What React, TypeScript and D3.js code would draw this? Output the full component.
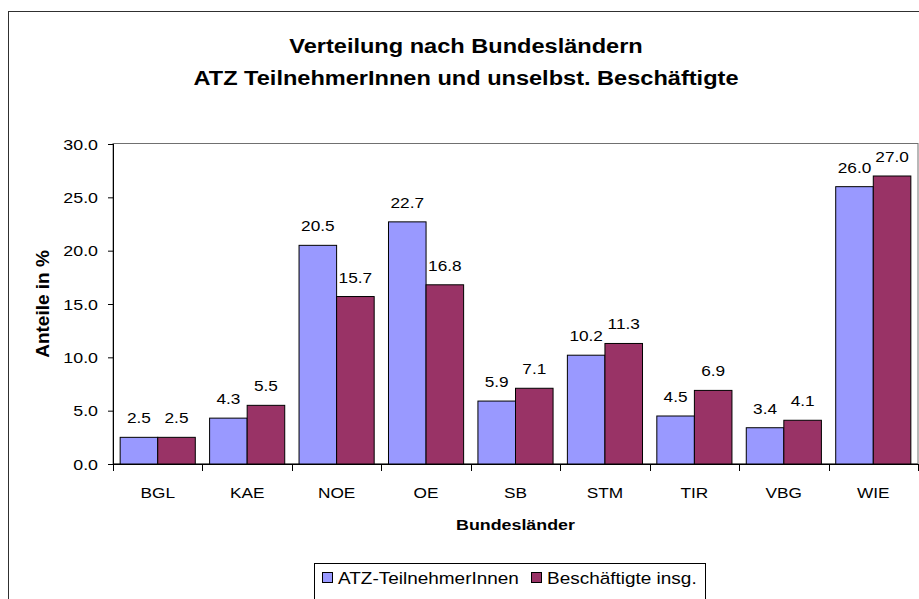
import React from 'react';
import * as d3 from 'd3';

const categories = ['BGL', 'KAE', 'NOE', 'OE', 'SB', 'STM', 'TIR', 'VBG', 'WIE'];
const seriesNames = ['ATZ-TeilnehmerInnen', 'Beschäftigte insg.'];
const atzValues = [2.5, 4.3, 20.5, 22.7, 5.9, 10.2, 4.5, 3.4, 26.0];
const beschValues = [2.5, 5.5, 15.7, 16.8, 7.1, 11.3, 6.9, 4.1, 27.0];
const yTicks = [0, 5, 10, 15, 20, 25, 30];
const colors = ['#9999FF', '#993366'];

const W = 919;
const H = 599;
const FONT = "Arial, 'Liberation Sans', sans-serif";
const SX = 1.15; // text in the original is a bit wider than plain Arial

const plot = { left: 113, right: 918, top: 144, bottom: 464 };

function T({ x, y, size, anchor = 'middle', bold = false, children }) {
  return (
    <text
      transform={`translate(${x},${y}) scale(${SX},1)`}
      textAnchor={anchor}
      fontFamily={FONT}
      fontSize={size}
      fontWeight={bold ? 'bold' : 'normal'}
      fill="#000"
    >
      {children}
    </text>
  );
}

export default function App() {
  const x = d3
    .scaleBand()
    .domain(categories)
    .range([plot.left, plot.right])
    .paddingInner(0.16)
    .paddingOuter(0.08);
  const step = x.step();
  const xs = d3.scaleBand().domain(['0', '1']).range([0, x.bandwidth()]);
  const y = d3.scaleLinear().domain([0, 30]).range([plot.bottom, plot.top]);

  const series = [atzValues, beschValues];
  const fmt = d3.format('.1f');
  const midX = (plot.left + plot.right) / 2;

  return (
    <div style={{ position: 'fixed', left: 0, top: 0 }}>
      <svg width={W} height={H} style={{ display: 'block', background: '#fff' }}>
        {/* chart frame */}
        <rect x={8.5} y={11.5} width={W + 20} height={H + 20} fill="#fff" stroke="#303030" />

        {/* title */}
        <T x={466} y={53} size={20.5} bold>Verteilung nach Bundesländern</T>
        <T x={466} y={85} size={20.5} bold>ATZ TeilnehmerInnen und unselbst. Beschäftigte</T>

        {/* plot area border */}
        <rect
          x={plot.left}
          y={plot.top - 0.5}
          width={plot.right - plot.left}
          height={plot.bottom - plot.top}
          fill="none"
          stroke="#707070"
        />

        {/* bars */}
        {series.map((vals, s) =>
          vals.map((v, i) => {
            const bx = x(categories[i]) + xs(String(s));
            return (
              <rect
                key={`b${s}-${i}`}
                x={bx}
                y={y(v)}
                width={xs.bandwidth()}
                height={y(0) - y(v)}
                fill={colors[s]}
                stroke="#000"
                strokeWidth={1}
              />
            );
          })
        )}

        {/* data labels */}
        {series.map((vals, s) =>
          vals.map((v, i) => (
            <T
              key={`l${s}-${i}`}
              x={x(categories[i]) + xs(String(s)) + xs.bandwidth() / 2}
              y={y(v) - 14}
              size={15}
            >
              {fmt(v)}
            </T>
          ))
        )}

        {/* y axis */}
        <line x1={plot.left + 0.5} x2={plot.left + 0.5} y1={plot.top} y2={plot.bottom} stroke="#000" />
        {yTicks.map((t) => (
          <g key={`yt${t}`}>
            <line x1={plot.left - 5} x2={plot.left} y1={y(t) + 0.5} y2={y(t) + 0.5} stroke="#000" />
            <T x={98} y={y(t) + 5.5} size={15.5} anchor="end">
              {fmt(t)}
            </T>
          </g>
        ))}

        {/* x axis */}
        <line x1={plot.left} x2={plot.right} y1={plot.bottom + 0.5} y2={plot.bottom + 0.5} stroke="#000" />
        {d3.range(categories.length + 1).map((i) => {
          const tx = Math.round(plot.left + i * step) + 0.5;
          return <line key={`xt${i}`} x1={tx} x2={tx} y1={plot.bottom} y2={plot.bottom + 7} stroke="#000" />;
        })}
        {categories.map((c) => (
          <T key={`xl${c}`} x={x(c) + x.bandwidth() / 2} y={498} size={15}>
            {c}
          </T>
        ))}

        {/* axis titles */}
        <T x={midX} y={530} size={15.5} bold>Bundesländer</T>
        <text
          transform={`translate(49,${(plot.top + plot.bottom) / 2}) rotate(-90)`}
          textAnchor="middle"
          fontFamily={FONT}
          fontSize={19}
          fontWeight="bold"
        >
          Anteile in %
        </text>

        {/* legend */}
        <rect x={314.5} y={563.5} width={391} height={50} fill="#fff" stroke="#000" />
        {seriesNames.map((n, s) => {
          const lx = s === 0 ? 322 : 531;
          return (
            <g key={`lg${s}`}>
              <rect x={lx + 0.5} y={572.5} width={10} height={10} fill={colors[s]} stroke="#000" />
              <T x={lx + 16} y={584} size={16.5} anchor="start">
                {n}
              </T>
            </g>
          );
        })}
      </svg>
    </div>
  );
}
